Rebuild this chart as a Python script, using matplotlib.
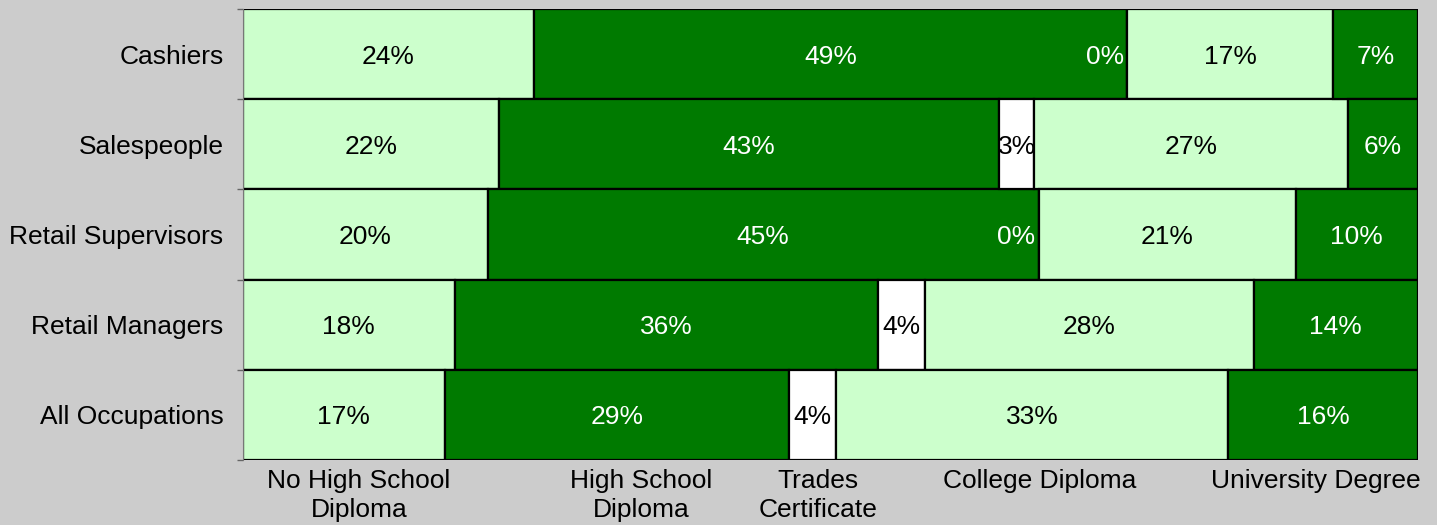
import matplotlib.pyplot as plt
import numpy as np

plt.rcParams['font.family'] = ['Liberation Sans', 'DejaVu Sans']

occupations = ["Cashiers", "Salespeople", "Retail Supervisors",
               "Retail Managers", "All Occupations"]
levels = ["No High School\nDiploma", "High School\nDiploma", "Trades\nCertificate",
          "College Diploma", "University Degree"]

# percent shown on each segment (rows = occupations, cols = education level)
no_high_school = [24, 22, 20, 18, 17]
high_school = [49, 43, 45, 36, 29]
trades = [0, 3, 0, 4, 4]
college = [17, 27, 21, 28, 33]
university = [7, 6, 10, 14, 16]

series = [no_high_school, high_school, trades, college, university]
fills = ['#ccffcc', '#007a00', '#ffffff', '#ccffcc', '#007a00']
text_cols = ['black', 'white', 'black', 'black', 'white']
# where the legend-like labels sit under the plot (axes fraction)
label_x = [0.0987, 0.3387, 0.4894, 0.6783, 0.9132]

data = np.array(series, dtype=float)
shares = data / data.sum(axis=0)  # 100% stacked

fig = plt.figure(figsize=(14.37, 5.25), dpi=100)
fig.patch.set_facecolor('#cccccc')
ax = fig.add_axes([243 / 1437, 1 - 460 / 525, 1175 / 1437, 451 / 525])
ax.set_facecolor('#cccccc')

ypos = np.arange(len(occupations))[::-1]
left = np.zeros(len(occupations))
for i in range(len(series)):
    bars = ax.barh(ypos, shares[i], left=left, height=1.0, color=fills[i],
                   edgecolor='black', linewidth=1.6, zorder=2)
    for j, rect in enumerate(bars):
        val = int(data[i, j])
        if val == 0:
            ax.text(left[j] - 0.003, ypos[j], f"{val}%", ha='right',
                    va='center_baseline', fontsize=19, color=text_cols[i - 1],
                    zorder=3)
        else:
            t = ax.text(left[j] + shares[i, j] / 2, ypos[j], f"{val}%",
                        ha='center', va='center_baseline', fontsize=19,
                        color=text_cols[i], zorder=3)
            t.set_clip_path(rect)
    left += shares[i]

ax.set_xlim(0, 1)
ax.set_ylim(-0.5, len(occupations) - 0.5)
ax.set_xticks([])
ax.set_yticks(ypos)
ax.set_yticklabels(occupations, fontsize=19)
ax.set_yticks(np.arange(len(occupations) + 1) - 0.5, minor=True)
ax.tick_params(axis='y', which='major', length=0, pad=14)
ax.tick_params(axis='y', which='minor', length=4.5, color='#666666', width=1)
for s in ['top', 'right', 'bottom']:
    ax.spines[s].set_visible(False)
ax.spines['left'].set_color('#777777')

for name, x in zip(levels, label_x):
    ax.text(x, -0.02, name, transform=ax.transAxes, ha='center', va='top',
            fontsize=19, linespacing=1.25)

fig.savefig('out.png', dpi=100, facecolor=fig.get_facecolor())
